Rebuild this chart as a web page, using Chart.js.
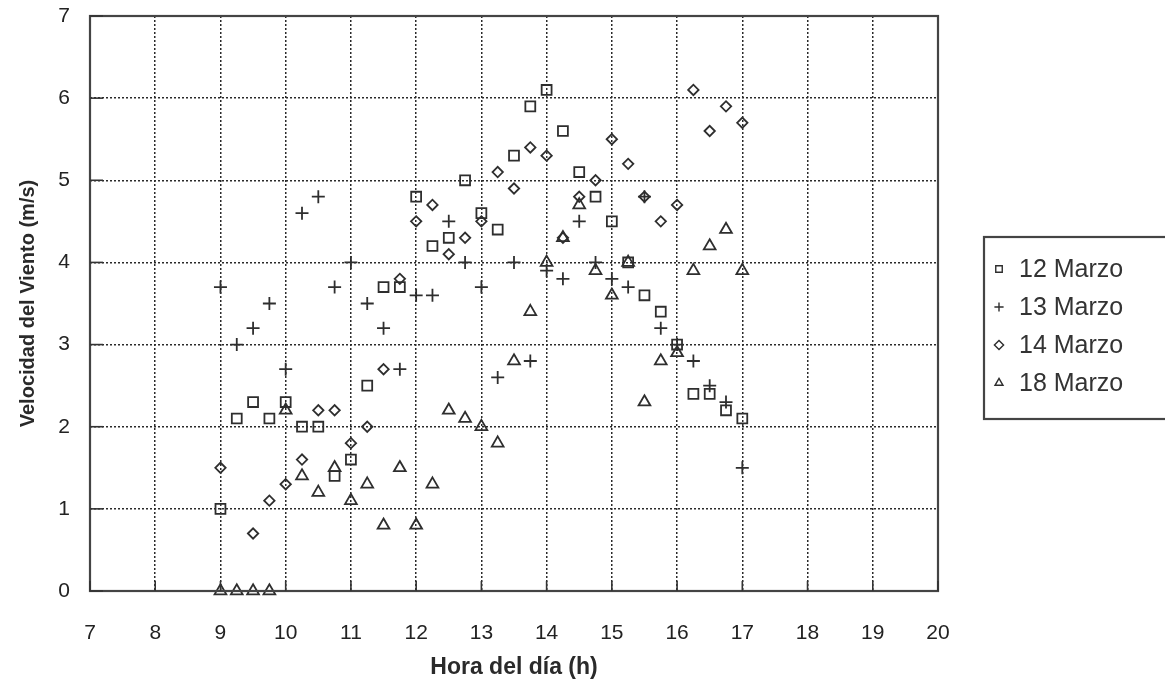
<!DOCTYPE html>
<html>
<head>
<meta charset="utf-8">
<script src="https://cdn.jsdelivr.net/npm/chart.js@4/dist/chart.umd.min.js"></script>
<style>
  html, body { margin: 0; padding: 0; background: #ffffff; }
  #wrap { width: 1165px; height: 687px; }
</style>
</head>
<body>
<div id="wrap"><canvas id="c" width="1165" height="687"></canvas></div>
<script>
// Hour of day for each 15-minute reading
const horas = [9, 9.25, 9.5, 9.75, 10, 10.25, 10.5, 10.75, 11, 11.25, 11.5, 11.75,
               12, 12.25, 12.5, 12.75, 13, 13.25, 13.5, 13.75, 14, 14.25, 14.5, 14.75,
               15, 15.25, 15.5, 15.75, 16, 16.25, 16.5, 16.75, 17];

// Wind speed (m/s) per day; null = no reading
const marzo12 = [1.0, 2.1, 2.3, 2.1, 2.3, 2.0, 2.0, 1.4, 1.6, 2.5, 3.7, 3.7,
                 4.8, 4.2, 4.3, 5.0, 4.6, 4.4, 5.3, 5.9, 6.1, 5.6, 5.1, 4.8,
                 4.5, 4.0, 3.6, 3.4, 3.0, 2.4, 2.4, 2.2, 2.1];
const marzo13 = [3.7, 3.0, 3.2, 3.5, 2.7, 4.6, 4.8, 3.7, 4.0, 3.5, 3.2, 2.7,
                 3.6, 3.6, 4.5, 4.0, 3.7, 2.6, 4.0, 2.8, 3.9, 3.8, 4.5, 4.0,
                 3.8, 3.7, 4.8, 3.2, 3.0, 2.8, 2.5, 2.3, 1.5];
const marzo14 = [1.5, null, 0.7, 1.1, 1.3, 1.6, 2.2, 2.2, 1.8, 2.0, 2.7, 3.8,
                 4.5, 4.7, 4.1, 4.3, 4.5, 5.1, 4.9, 5.4, 5.3, 4.3, 4.8, 5.0,
                 5.5, 5.2, 4.8, 4.5, 4.7, 6.1, 5.6, 5.9, 5.7];
const marzo18 = [0, 0, 0, 0, 2.2, 1.4, 1.2, 1.5, 1.1, 1.3, 0.8, 1.5,
                 0.8, 1.3, 2.2, 2.1, 2.0, 1.8, 2.8, 3.4, 4.0, 4.3, 4.7, 3.9,
                 3.6, 4.0, 2.3, 2.8, 2.9, 3.9, 4.2, 4.4, 3.9];

const etiquetas = ['12 Marzo', '13 Marzo', '14 Marzo', '18 Marzo'];
const simbolos = ['rect', 'cross', 'rectRot', 'triangle'];
const radios = [7, 6.5, 5.2, 6.8];

const INK = '#2e2e2e';
const FONT = '"Liberation Sans", Arial, Helvetica, sans-serif';

function puntos(vals) {
  return horas.map((h, i) => ({ x: h, y: vals[i] }));
}

const series = [marzo12, marzo13, marzo14, marzo18];
const datasets = series.map((vals, i) => ({
  label: etiquetas[i],
  data: puntos(vals),
  pointStyle: simbolos[i],
  pointRadius: radios[i],
  pointHoverRadius: radios[i],
  borderColor: INK,
  backgroundColor: 'rgba(0,0,0,0)',
  pointBorderWidth: 1.8,
  showLine: false,
  clip: false
}));

// Solid frame around the plot, inward tick marks, and the boxed legend
const marco = {
  id: 'marco',
  afterDatasetsDraw(chart) {
    const ctx = chart.ctx;
    const a = chart.chartArea;
    const xs = chart.scales.x, ys = chart.scales.y;
    ctx.save();
    ctx.strokeStyle = '#444';
    ctx.lineWidth = 2.2;
    ctx.setLineDash([]);
    ctx.strokeRect(a.left, a.top, a.right - a.left, a.bottom - a.top);

    ctx.lineWidth = 1.6;
    ctx.strokeStyle = '#333';
    ys.ticks.forEach(t => {
      const y = ys.getPixelForValue(t.value);
      ctx.beginPath(); ctx.moveTo(a.left, y); ctx.lineTo(a.left + 13, y); ctx.stroke();
    });
    xs.ticks.forEach(t => {
      const x = xs.getPixelForValue(t.value);
      ctx.beginPath(); ctx.moveTo(x, a.bottom); ctx.lineTo(x, a.bottom - 10); ctx.stroke();
    });

    // Legend box
    const bx = 984, by = 237, bh = 182;
    ctx.lineWidth = 2.2;
    ctx.strokeStyle = '#444';
    ctx.strokeRect(bx, by, 260, bh);
    const filas = [269, 307, 345, 383];
    chart.data.datasets.forEach((ds, i) => {
      ctx.lineWidth = 1.4;
      ctx.strokeStyle = INK;
      ctx.fillStyle = 'rgba(0,0,0,0)';
      Chart.helpers.drawPoint(ctx, { pointStyle: ds.pointStyle, radius: 4.6, rotation: 0, borderWidth: 1.4 }, 999, filas[i]);
      ctx.fillStyle = '#333';
      ctx.font = '25px ' + FONT;
      ctx.textAlign = 'left';
      ctx.textBaseline = 'middle';
      ctx.fillText(ds.label, 1019, filas[i] + 1);
    });
    ctx.restore();
  }
};

// Fixed axis box sizes so the plot area keeps its place on the page
function fijarX(s) { s.height = 96; s.paddingLeft = 0; s.paddingRight = 0; }
function fijarY(s) { s.width = 90; s.paddingTop = 0; s.paddingBottom = 0; }

new Chart(document.getElementById('c'), {
  type: 'scatter',
  data: { datasets },
  options: {
    responsive: false,
    animation: false,
    events: [],
    layout: { autoPadding: false, padding: { top: 16, right: 227, left: 0, bottom: 0 } },
    plugins: { legend: { display: false }, tooltip: { enabled: false } },
    scales: {
      x: {
        type: 'linear', min: 7, max: 20,
        afterFit: fijarX,
        ticks: { stepSize: 1, padding: 30, color: '#222', font: { family: FONT, size: 21 } },
        grid: { color: '#2a2a2a', lineWidth: 1.5, drawTicks: false },
        border: { display: false, dash: [2, 2] },
        title: { display: true, text: 'Hora del día (h)', color: '#2a2a2a',
                 font: { family: FONT, size: 23, weight: 'bold' }, padding: { top: 0, bottom: 6 } }
      },
      y: {
        type: 'linear', min: 0, max: 7,
        afterFit: fijarY,
        ticks: { stepSize: 1, padding: 20, color: '#222', font: { family: FONT, size: 21 } },
        grid: { color: '#2a2a2a', lineWidth: 1.5, drawTicks: false },
        border: { display: false, dash: [2, 2] },
        title: { display: true, text: 'Velocidad del Viento (m/s)', color: '#2a2a2a',
                 font: { family: FONT, size: 20, weight: 'bold' }, padding: { top: 16, bottom: 0 } }
      }
    }
  },
  plugins: [marco]
});
</script>
</body>
</html>
